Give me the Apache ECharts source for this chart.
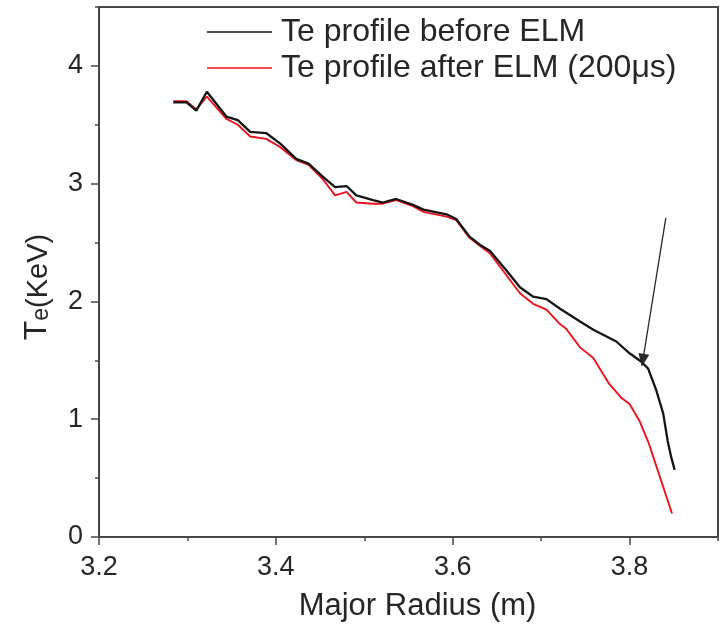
<!DOCTYPE html>
<html>
<head>
<meta charset="utf-8">
<script src="https://cdn.jsdelivr.net/npm/echarts@6/dist/echarts.min.js"></script>
<style>html,body{margin:0;padding:0;background:#fff}#c{width:720px;height:630px}</style>
</head>
<body>
<div id="c"></div>
<script>
var seriesNames = ['Te profile before ELM', 'Te profile after ELM (200\u03bcs)'];
var xTickLabels = ['3.2', '3.4', '3.6', '3.8'];
var yTickLabels = ['0', '1', '2', '3', '4'];

var beforeR = [3.284,3.299,3.310,3.322,3.344,3.357,3.371,3.389,3.405,3.423,3.437,3.453,3.467,3.480,3.491,3.510,3.521,3.536,3.555,3.567,3.593,3.604,3.619,3.631,3.642,3.661,3.676,3.691,3.706,3.721,3.744,3.759,3.785,3.800,3.813,3.821,3.830,3.838,3.843,3.847,3.851];
var beforeTe = [3.69,3.69,3.62,3.78,3.57,3.54,3.44,3.43,3.34,3.21,3.17,3.06,2.97,2.98,2.90,2.86,2.84,2.87,2.82,2.78,2.74,2.70,2.55,2.48,2.43,2.26,2.12,2.04,2.02,1.94,1.83,1.76,1.66,1.56,1.49,1.43,1.25,1.05,0.82,0.68,0.57];

var afterR = [3.284,3.299,3.310,3.322,3.344,3.357,3.371,3.389,3.405,3.423,3.437,3.453,3.467,3.480,3.491,3.510,3.521,3.536,3.555,3.567,3.593,3.604,3.619,3.631,3.642,3.661,3.676,3.691,3.706,3.721,3.728,3.744,3.759,3.777,3.791,3.800,3.811,3.822,3.833,3.848];
var afterTe = [3.70,3.70,3.63,3.74,3.55,3.50,3.40,3.38,3.31,3.20,3.16,3.04,2.90,2.93,2.84,2.83,2.83,2.86,2.81,2.76,2.72,2.69,2.54,2.47,2.41,2.22,2.07,1.98,1.93,1.81,1.77,1.61,1.52,1.30,1.18,1.13,0.99,0.79,0.54,0.20];

var arrowStart = [3.841, 2.71];
var arrowEnd = [3.815, 1.50];

function pairs(xs, ys) { return xs.map(function (x, i) { return [x, ys[i]]; }); }

var FONT = 'Liberation Sans, Arial, sans-serif';
var AX = '#474747';
var TXT = '#262626';

var chart = echarts.init(document.getElementById('c'), null, {renderer: 'canvas'});
chart.setOption({
  animation: false,
  backgroundColor: '#ffffff',
  grid: {left: 99, right: 2, top: 7, bottom: 93, show: true, borderColor: AX, borderWidth: 2, backgroundColor: 'transparent'},
  legend: {
    orient: 'vertical', left: 207, top: 16, padding: 0, itemWidth: 65, itemHeight: 1.5, itemGap: 4,
    icon: 'rect',
    data: seriesNames,
    textStyle: {fontFamily: FONT, fontSize: 32, color: TXT, padding: [0, 0, 0, 4], lineHeight: 30}
  },
  xAxis: [{
    type: 'value', min: 3.2, max: 3.9, interval: 0.2,
    name: 'Major Radius (m)', nameLocation: 'middle', nameGap: 54,
    nameTextStyle: {fontFamily: FONT, fontSize: 31, color: TXT, padding: [0, 0, 0, 18]},
    axisLine: {show: true, onZero: false, lineStyle: {color: AX, width: 2}},
    axisTick: {show: true, inside: false, length: 8, lineStyle: {color: AX, width: 1.5}},
    axisLabel: {fontFamily: FONT, fontSize: 27, color: TXT, margin: 17, showMaxLabel: false,
      formatter: function (v) { var s = v.toFixed(1); return xTickLabels.indexOf(s) >= 0 ? s : ''; }},
    splitLine: {show: false}
  }, {
    type: 'value', min: 3.2, max: 3.9, interval: 0.1, position: 'bottom',
    axisLine: {show: false}, axisLabel: {show: false}, splitLine: {show: false},
    axisTick: {show: true, inside: false, length: 4, lineStyle: {color: AX, width: 1.5}}
  }],
  yAxis: [{
    type: 'value', min: 0, max: 4.5, interval: 1,
    name: '{t|T}{s|e}{u|(KeV)}', nameLocation: 'middle', nameGap: 46, nameRotate: 90,
    nameTextStyle: {fontFamily: FONT, color: TXT, padding: [0, 30, 0, 0],
      rich: {
        t: {fontFamily: FONT, fontSize: 32, color: TXT, verticalAlign: 'bottom', lineHeight: 36},
        s: {fontFamily: FONT, fontSize: 23, color: TXT, verticalAlign: 'bottom', lineHeight: 27},
        u: {fontFamily: FONT, fontSize: 29, color: TXT, verticalAlign: 'bottom', lineHeight: 30}
      }},
    axisLine: {show: true, onZero: false, lineStyle: {color: AX, width: 2}},
    axisTick: {show: true, inside: false, length: 8, lineStyle: {color: AX, width: 1.5}},
    axisLabel: {fontFamily: FONT, fontSize: 27, color: TXT, margin: 16, showMaxLabel: false,
      formatter: function (v) { var s = String(Math.round(v)); return (Math.abs(v - Math.round(v)) < 1e-6 && yTickLabels.indexOf(s) >= 0) ? s : ''; }},
    splitLine: {show: false}
  }, {
    type: 'value', min: 0, max: 4.5, interval: 0.5, position: 'left',
    axisLine: {show: false}, axisLabel: {show: false}, splitLine: {show: false},
    axisTick: {show: true, inside: false, length: 4, lineStyle: {color: AX, width: 1.5}}
  }],
  series: [{
    name: seriesNames[0], type: 'line', xAxisIndex: 0, yAxisIndex: 0,
    data: pairs(beforeR, beforeTe), symbol: 'none', z: 3,
    lineStyle: {color: '#151515', width: 2.3}, itemStyle: {color: '#151515'},
    markLine: {
      silent: true, animation: false, symbol: ['none', 'triangle'], symbolSize: [11, 13],
      label: {show: false},
      lineStyle: {color: '#2a2a2a', width: 1.3, type: 'solid'},
      data: [[{coord: arrowStart}, {coord: arrowEnd}]]
    }
  }, {
    name: seriesNames[1], type: 'line', xAxisIndex: 0, yAxisIndex: 0,
    data: pairs(afterR, afterTe), symbol: 'none', z: 2,
    lineStyle: {color: '#e8141c', width: 1.9}, itemStyle: {color: '#e8141c'}
  }]
});
</script>
</body>
</html>
